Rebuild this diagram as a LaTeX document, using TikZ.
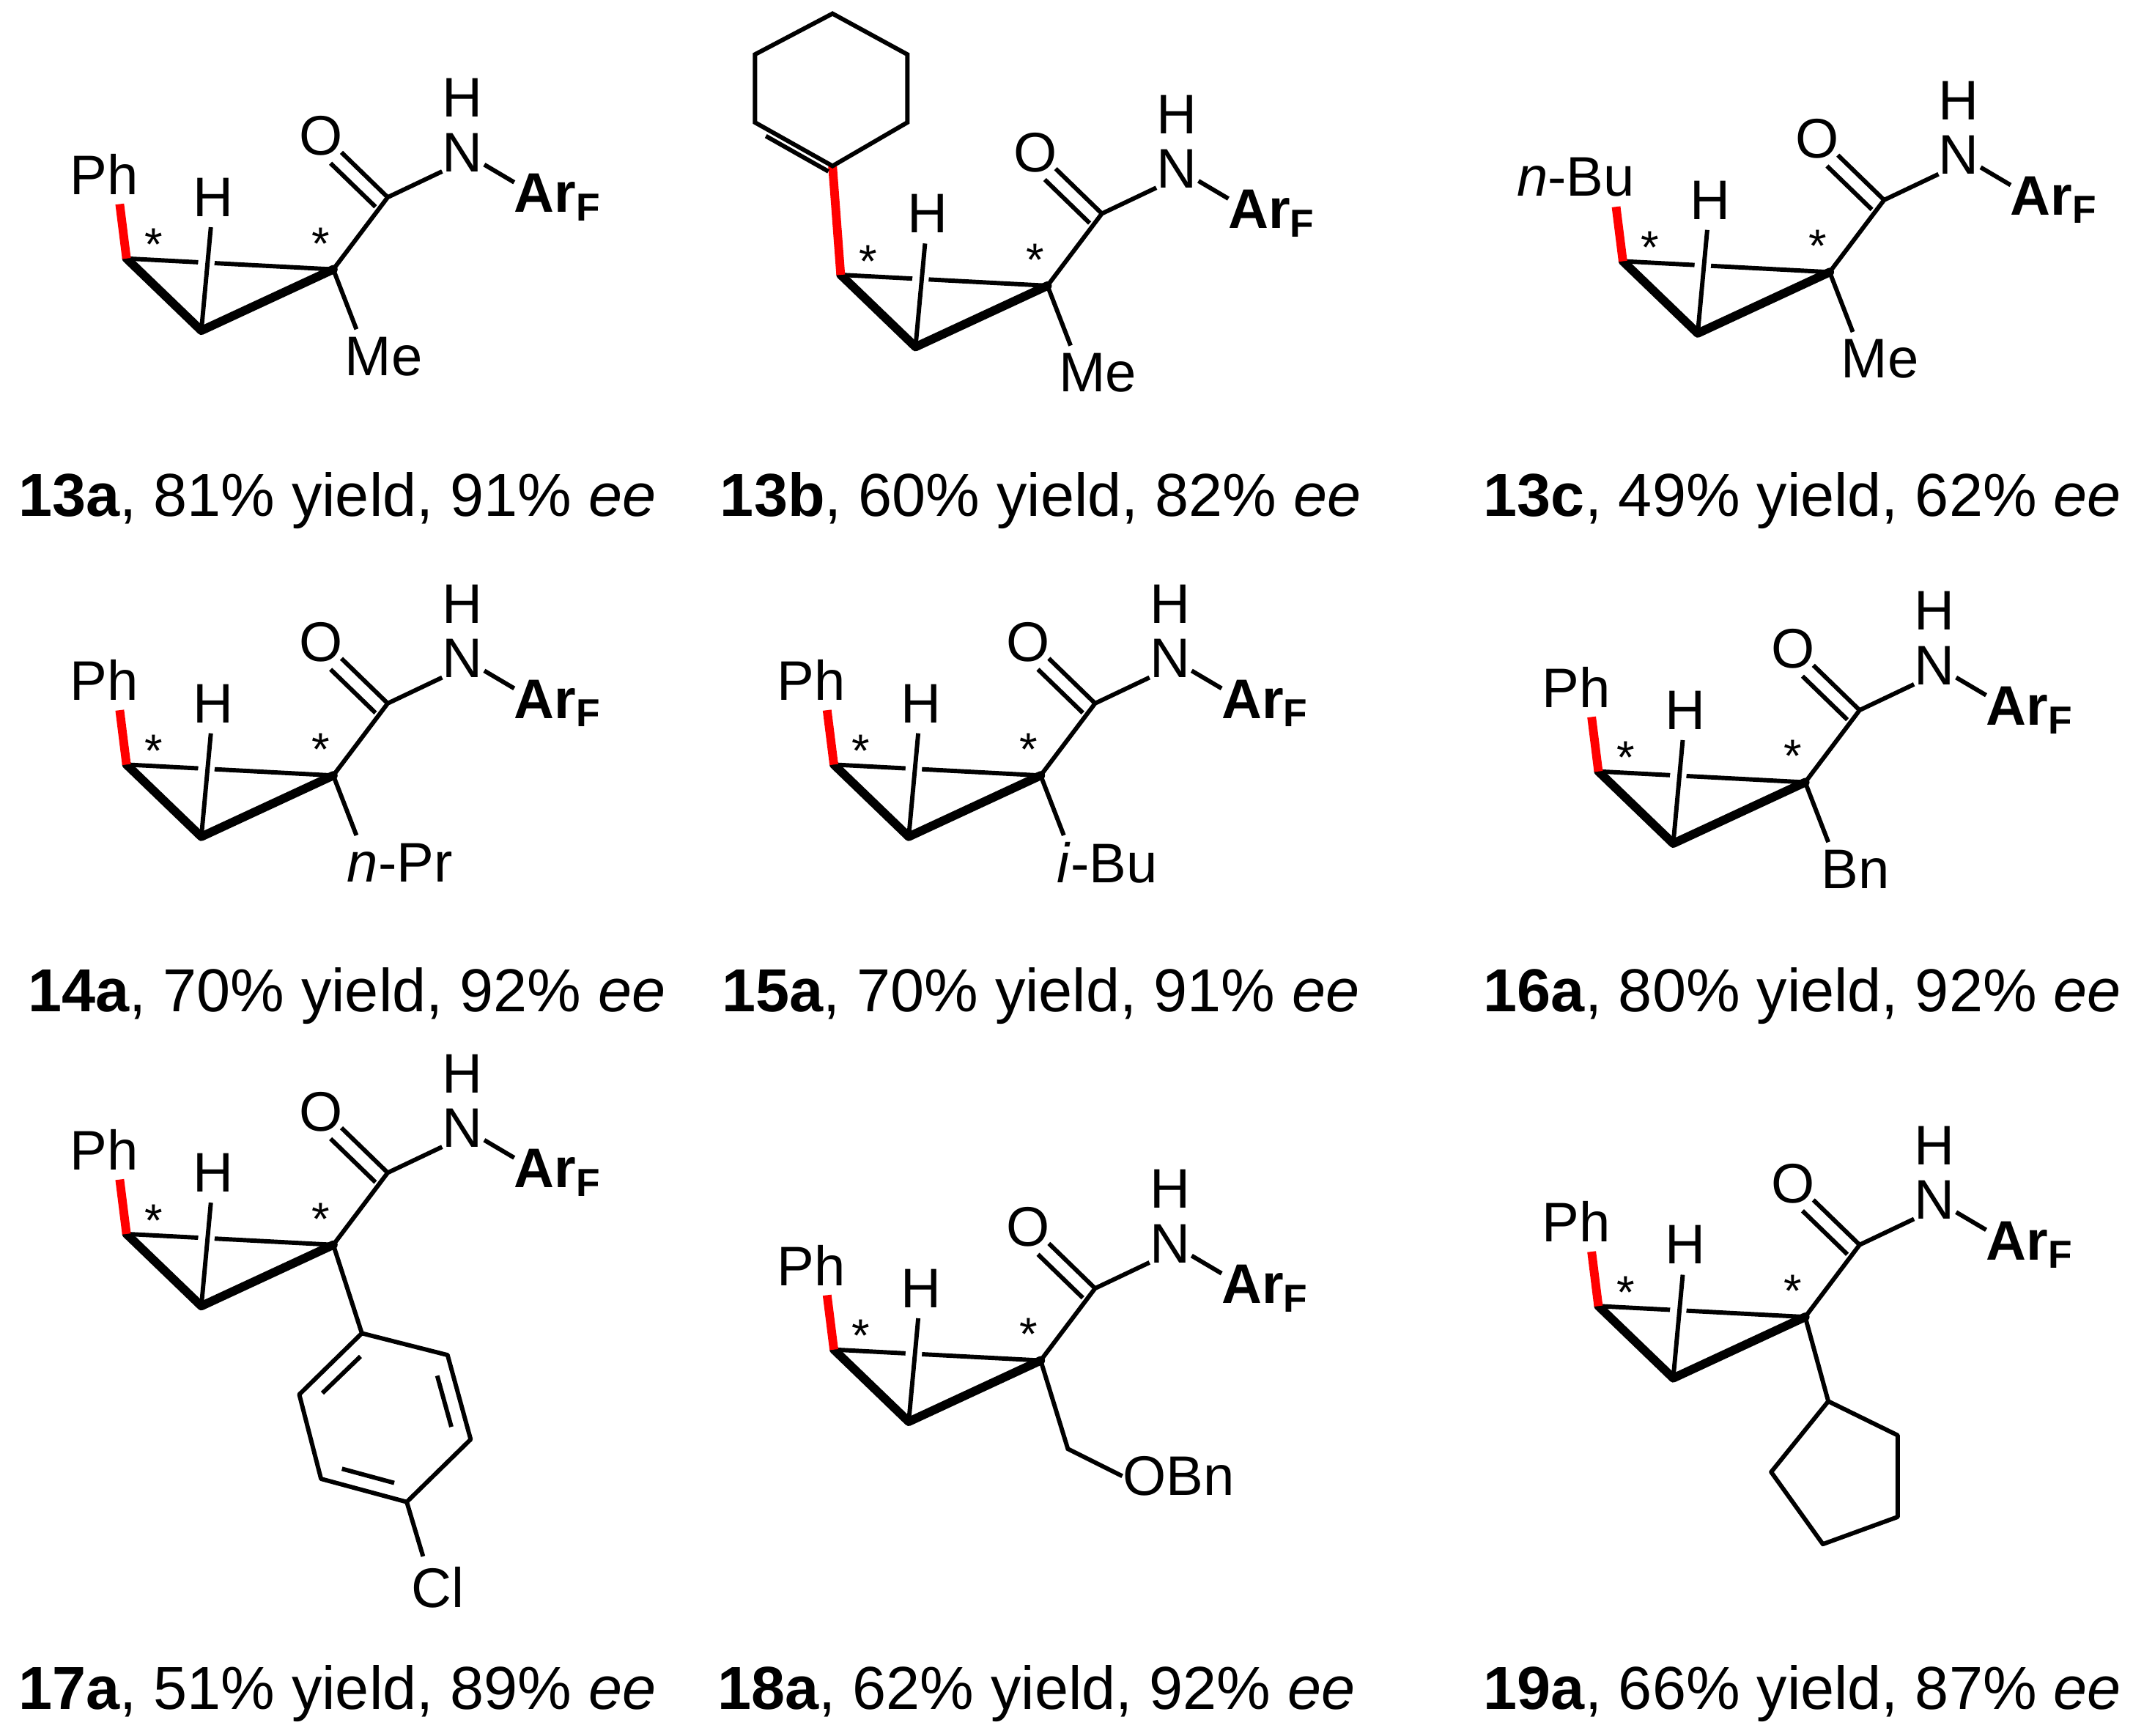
\documentclass[tikz,border=0pt]{standalone}
\usepackage{fontspec}
\setmainfont{Liberation Sans}
\begin{document}
\begin{tikzpicture}[x=0.5pt,y=-0.5pt,
  thin/.style={line width=1.6pt},
  bold/.style={line width=3.2pt,line cap=round,line join=round},
  red bond/.style={line width=3.2pt,draw=red},
  atom/.style={font=\fontsize{20.5}{24}\selectfont,inner sep=1pt},
  star/.style={font=\fontsize{17}{17}\selectfont,inner sep=0pt},
  lab/.style={font=\fontsize{22.3}{26}\selectfont,inner sep=0pt}]
\useasboundingbox (0,0) rectangle (1568,1276);
\newcommand{\core}[3]{%
\begin{scope}[shift={(#1,#2)}]
 \draw[thin] (93,190) -- (245,198);
 \draw[line width=6pt,white] (153,180) -- (151,200);
 \draw[thin] (148,243) -- (155,167);
 \draw[bold] (93,190) -- (148,243) -- (245,198);
 \node[star] (s1) at (113,180) {*};
 \node[star] (s2) at (236,179) {*};
 \node[atom] (h) at (157,145) {H};
 \draw[thin] (245,198) -- (285,145) -- (325,126);
 \draw[thin] (285,145) -- (251,112);
 \draw[thin] (276,152) -- (243,120);
 \node[atom] (o) at (236,100) {O};
 \node[atom] (n) at (340,112) {N};
 \node[atom] (nh) at (340,72) {H};
 \draw[thin] (356,121) -- (378,134);
 \node[atom] (ar) at (410,145) {\textbf{Ar\textsubscript{F}}};
 #3
\end{scope}}
\newcommand{\phgrp}[1]{\draw[red bond] (88,150) -- (93,190); \node[atom,anchor=east] at (104,128) {#1};}
\newcommand{\botsub}[1]{\draw[thin] (245,198) -- (262,242); \node[atom] at (282,262) {#1};}
% 13a
\core{0}{0}{\phgrp{Ph}\botsub{Me}}
\node[lab] (l13a) at (248,368) {\textbf{13a}, 81\% yield, 91\% \textit{ee}};
% 13b
\core{525}{12}{\draw[red bond] (87,110) -- (93,190);
 \draw[thin] (87,110) -- (30,78) -- (30,28) -- (87,-2) -- (142,28) -- (142,78) -- cycle;
 \draw[thin] (38,88) -- (84,114);
 \botsub{Me}}
\node[lab] (l13b) at (765,368) {\textbf{13b}, 60\% yield, 82\% \textit{ee}};
% 13c
\core{1100}{2}{\phgrp{\textit{n}-Bu}\botsub{Me}}
\node[lab] (l13c) at (1325,368) {\textbf{13c}, 49\% yield, 62\% \textit{ee}};
% 14a
\core{0}{372}{\phgrp{Ph}\botsub{\hspace*{12pt}\textit{n}-Pr}}
\node[lab] (l14a) at (255,732) {\textbf{14a}, 70\% yield, 92\% \textit{ee}};
% 15a
\core{520}{372}{\phgrp{Ph}\botsub{\hspace*{12pt}\textit{i}-Bu}}
\node[lab] (l15a) at (765,732) {\textbf{15a}, 70\% yield, 91\% \textit{ee}};
% 16a
\core{1082}{377}{\phgrp{Ph}\botsub{Bn}}
\node[lab] (l16a) at (1325,732) {\textbf{16a}, 80\% yield, 92\% \textit{ee}};
% 17a
\core{0}{717}{\phgrp{Ph}
 \draw[thin] (245,198) -- (266,263);
 \draw[thin,line join=round] (266,263) -- (329,279) -- (346,341) -- (299,387) -- (236,370) -- (220,308) -- cycle;
 \draw[thin] (265,280) -- (237,307);
 \draw[thin] (321.4,294.2) -- (331.8,331.8);
 \draw[thin] (251.4,362.6) -- (289.8,373);
 \draw[thin] (299,387) -- (311,427);
 \node[atom] at (322,450) {Cl};}
\node[lab] (l17a) at (248,1245) {\textbf{17a}, 51\% yield, 89\% \textit{ee}};
% 18a
\core{520}{802}{\phgrp{Ph}
 \draw[thin] (245,198) -- (265,263) -- (305,283);
 \node[atom,anchor=west] at (303,283) {OBn};}
\node[lab] (l18a) at (762,1245) {\textbf{18a}, 62\% yield, 92\% \textit{ee}};
% 19a
\core{1082}{770}{\phgrp{Ph}
 \draw[thin] (245,198) -- (262,260);
 \draw[thin,line join=round] (262,260) -- (313,285) -- (313,345) -- (258,365) -- (220,312) -- cycle;}
\node[lab] (l19a) at (1325,1245) {\textbf{19a}, 66\% yield, 87\% \textit{ee}};
\end{tikzpicture}
\end{document}
